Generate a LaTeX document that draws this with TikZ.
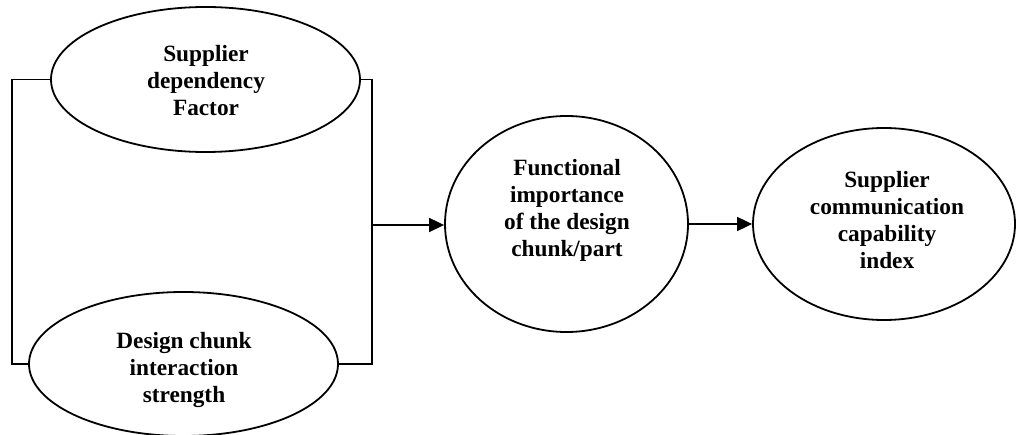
\documentclass[tikz,border=0pt]{standalone}
\usepackage{fontspec}
\setmainfont{Liberation Serif}
\usetikzlibrary{shapes.geometric,arrows.meta}
\tikzset{
  oval/.style={draw, ellipse, line width=1.8pt, inner sep=0pt},
  lbl/.style={align=center, font=\bfseries\fontsize{23.3}{27}\selectfont, inner sep=0pt},
  link/.style={line width=1.8pt},
  arr/.style={line width=1.8pt, -{Triangle[length=15pt,width=14pt]}}
}
\begin{document}
\begin{tikzpicture}[x=1pt,y=-1pt]
\useasboundingbox (0,0) rectangle (1016,435);
% ovals
\node[oval, minimum width=309pt, minimum height=145pt] (e1) at (205.5,79.5) {};
\node[oval, minimum width=309pt, minimum height=144pt] (e2) at (183.5,364) {};
\node[oval, minimum width=243pt, minimum height=216pt] (e3) at (566.5,224) {};
\node[oval, minimum width=262pt, minimum height=192pt] (e4) at (884,224) {};
% labels
\node[lbl] (t1) at (206,81) {Supplier\\dependency\\Factor};
\node[lbl] (t2) at (184,370) {Design chunk\\interaction\\strength};
\node[lbl] (t3) at (567,210) {Functional\\importance\\of the design\\chunk/part};
\node[lbl] (t4) at (887,220) {Supplier\\communication\\capability\\index};
% bracket
\coordinate (bl1) at (12,79.5);
\coordinate (bl2) at (12,364);
\coordinate (br1) at (372,79.5);
\coordinate (br2) at (372,364);
\draw[link] (e1.west) -- (bl1) -- (bl2) -- (e2.west);
\draw[link] (e1.east) -- (br1) -- (br2) -- (e2.east);
\coordinate (a0) at (372,225);
\draw[arr] (a0) -- (e3.west |- a0);
\draw[arr] (e3.east) -- (e4.west);
\end{tikzpicture}
\end{document}
